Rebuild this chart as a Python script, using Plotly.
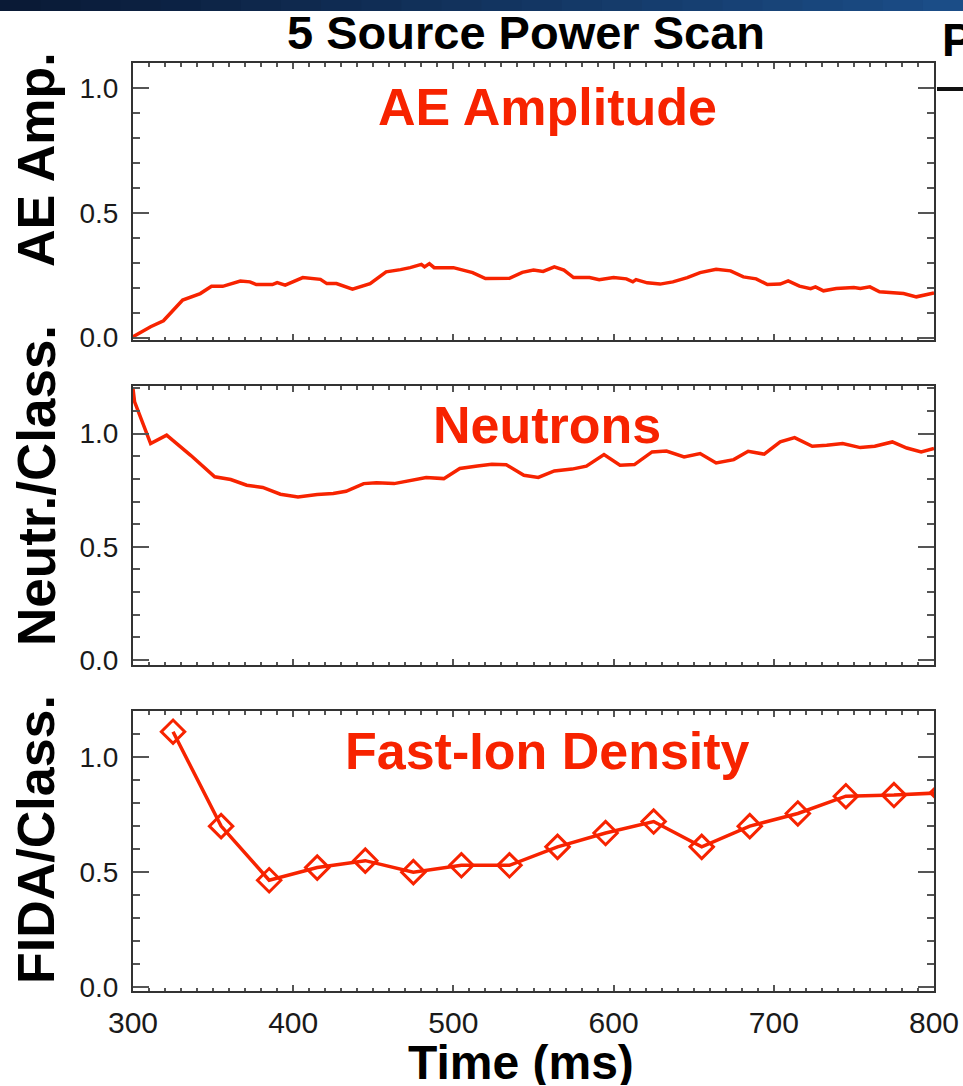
import plotly.graph_objects as go

# ---------------- data ----------------
ae_time = [300, 311, 319, 325, 331, 342, 349, 356, 367, 373, 377, 387, 390, 395, 400,
           406, 417, 421, 427, 437, 448, 452, 458, 467, 473, 480, 482, 485, 488, 500,
           512, 520, 535, 543, 550, 556, 563, 569, 575, 585, 591, 600, 608, 612, 614,
           621, 629, 637, 646, 654, 664, 673, 681, 689, 696, 704, 709, 716, 723, 726,
           731, 739, 750, 754, 760, 766, 775, 781, 789, 795, 800]
ae_amp = [0.003, 0.043, 0.067, 0.110, 0.150, 0.176, 0.205, 0.205, 0.226, 0.223, 0.212,
          0.212, 0.220, 0.210, 0.223, 0.240, 0.233, 0.216, 0.216, 0.194, 0.216, 0.236,
          0.263, 0.272, 0.280, 0.293, 0.283, 0.296, 0.280, 0.280, 0.260, 0.236, 0.237,
          0.261, 0.270, 0.265, 0.283, 0.270, 0.240, 0.240, 0.232, 0.240, 0.235, 0.223,
          0.232, 0.219, 0.214, 0.223, 0.240, 0.260, 0.273, 0.267, 0.243, 0.235, 0.212,
          0.214, 0.227, 0.206, 0.196, 0.203, 0.187, 0.196, 0.200, 0.196, 0.203, 0.183,
          0.179, 0.176, 0.163, 0.170, 0.179]

neut_time = [300, 301, 311, 321, 336, 351, 361, 371, 381, 392, 403, 415, 425, 433, 444,
             452, 463, 473, 483, 494, 504, 515, 524, 533, 544, 553, 563, 574, 583, 594,
             604, 613, 624, 633, 644, 654, 664, 675, 684, 694, 704, 713, 724, 733, 743,
             754, 763, 774, 783, 792, 800]
neut_ratio = [1.198, 1.140, 0.956, 0.993, 0.904, 0.809, 0.797, 0.772, 0.762, 0.732, 0.720,
              0.731, 0.735, 0.745, 0.779, 0.783, 0.779, 0.794, 0.806, 0.801, 0.846, 0.857,
              0.864, 0.862, 0.816, 0.806, 0.835, 0.843, 0.856, 0.907, 0.860, 0.863, 0.919,
              0.923, 0.897, 0.912, 0.870, 0.885, 0.922, 0.909, 0.963, 0.982, 0.944, 0.948,
              0.956, 0.938, 0.944, 0.963, 0.936, 0.919, 0.934]

fida_time = [325, 355, 385, 415, 445, 475, 505, 535, 565, 595, 625, 655, 685, 715, 745, 775, 805]
fida_ratio = [1.11, 0.70, 0.465, 0.52, 0.55, 0.50, 0.53, 0.53, 0.61, 0.67, 0.72, 0.61,
              0.70, 0.755, 0.83, 0.835, 0.845]

x_ticks = [300, 400, 500, 600, 700, 800]
y_ticks = [0.0, 0.5, 1.0]

# ---------------- geometry ----------------
FW, FH = 963, 1086
ML, MR, MT, MB = 133, 29, 62, 95
PW = FW - ML - MR
PH = FH - MT - MB
BOT = FH - MB


def px(xp):
    return (xp - ML) / PW


def py(yp):
    return (BOT - yp) / PH


panels = [(63, 340), (386, 665), (711, 991)]
yranges = [[-0.01, 1.1], [-0.022, 1.21], [-0.016, 1.2]]

RED = "#F72300"
XFONT = dict(family="Liberation Sans, Arial, sans-serif", size=30, color="#1a1a1a")
YFONT = dict(family="Liberation Sans, Arial, sans-serif", size=28, color="#1a1a1a")
BOLD = "Liberation Sans, Arial, sans-serif"

fig = go.Figure()
fig.add_trace(go.Scatter(x=ae_time, y=ae_amp, mode="lines",
                         line=dict(color=RED, width=3.5), xaxis="x", yaxis="y",
                         showlegend=False))
fig.add_trace(go.Scatter(x=neut_time, y=neut_ratio, mode="lines",
                         line=dict(color=RED, width=3.5), xaxis="x2", yaxis="y2",
                         showlegend=False))
fig.add_trace(go.Scatter(x=fida_time, y=fida_ratio, mode="lines+markers",
                         line=dict(color=RED, width=3.5),
                         marker=dict(symbol="diamond-open", size=18, color=RED,
                                     line=dict(color=RED, width=3)),
                         cliponaxis=True,
                         xaxis="x3", yaxis="y3", showlegend=False))

layout = dict(width=FW, height=FH, margin=dict(l=ML, r=MR, t=MT, b=MB, autoexpand=False),
              paper_bgcolor="white", plot_bgcolor="white", showlegend=False)

for i, ((top, bot), yr) in enumerate(zip(panels, yranges)):
    sfx = "" if i == 0 else str(i + 1)
    xa = dict(range=[300, 800], tickmode="array", tickvals=x_ticks,
              ticktext=[str(v) for v in x_ticks],
              ticks="inside", ticklen=6, tickwidth=2, tickcolor="#555",
              showline=True, linecolor="#333", linewidth=2, mirror="ticks",
              showgrid=False, zeroline=False,
              minor=dict(dtick=10, tick0=300, ticks="inside", ticklen=3.5,
                         tickwidth=1.5, tickcolor="#555", showgrid=False),
              anchor="y" + sfx, domain=[0, 1], automargin=False,
              showticklabels=(i == 2), tickfont=XFONT, ticklabelstandoff=4)
    ya = dict(range=yr, tickmode="array", tickvals=y_ticks,
              ticktext=["%.1f" % v for v in y_ticks],
              ticks="inside", ticklen=16, tickwidth=2, tickcolor="#555",
              showline=True, linecolor="#333", linewidth=2, mirror="ticks",
              showgrid=False, zeroline=False,
              minor=dict(dtick=0.1, tick0=0, ticks="inside", ticklen=7,
                         tickwidth=1.5, tickcolor="#555", showgrid=False),
              anchor="x" + sfx, domain=[py(bot), py(top)], automargin=False,
              tickfont=YFONT, ticklabelstandoff=7)
    layout["xaxis" + sfx] = xa
    layout["yaxis" + sfx] = ya

fig.update_layout(**layout)

# ---------------- decorations ----------------
shapes = []
# gradient top bar
n = 24
c0 = (10, 26, 54)
c1 = (27, 77, 135)
for k in range(n):
    f = k / (n - 1)
    col = "rgb(%d,%d,%d)" % tuple(int(a + (b - a) * f) for a, b in zip(c0, c1))
    shapes.append(dict(type="rect", xref="paper", yref="paper",
                       x0=px(FW * k / n), x1=px(FW * (k + 1) / n + 1),
                       y0=py(11), y1=py(0), fillcolor=col, line=dict(width=0),
                       layer="above"))
# right-edge dash
shapes.append(dict(type="line", xref="paper", yref="paper",
                   x0=px(937), x1=px(963), y0=py(89), y1=py(89),
                   line=dict(color="#111", width=4)))
fig.update_layout(shapes=shapes)

ann = []


def add(text, x, y, size, color="black", angle=0, xanchor="center", bold=True, **kw):
    d = dict(text="<b>%s</b>" % text if bold else text, xref="paper", yref="paper",
             x=px(x), y=py(y), xanchor=xanchor, yanchor="middle",
             showarrow=False, textangle=angle,
             font=dict(family=BOLD, size=size, color=color))
    d.update(kw)
    ann.append(d)


add("5 Source Power Scan", 526, 32, 47)
add("P", 940, 40, 46, xanchor="left", width=22, align="left")
add("AE Amplitude", 547, 107, 52, RED)
add("Neutrons", 547, 425, 52, RED)
add("Fast-Ion Density", 547, 751, 52, RED)
add("AE Amp.", 36, 160, 52, angle=-90)
add("Neutr./Class.", 36, 486, 53, angle=-90)
add("FIDA/Class.", 36, 840, 52, angle=-90)
add("Time (ms)", 521, 1062, 48, height=46)
fig.update_layout(annotations=ann)

fig.write_html("out.html", config={"displayModeBar": False},
               post_script="document.body.style.margin='0';document.body.style.overflow='hidden';")
